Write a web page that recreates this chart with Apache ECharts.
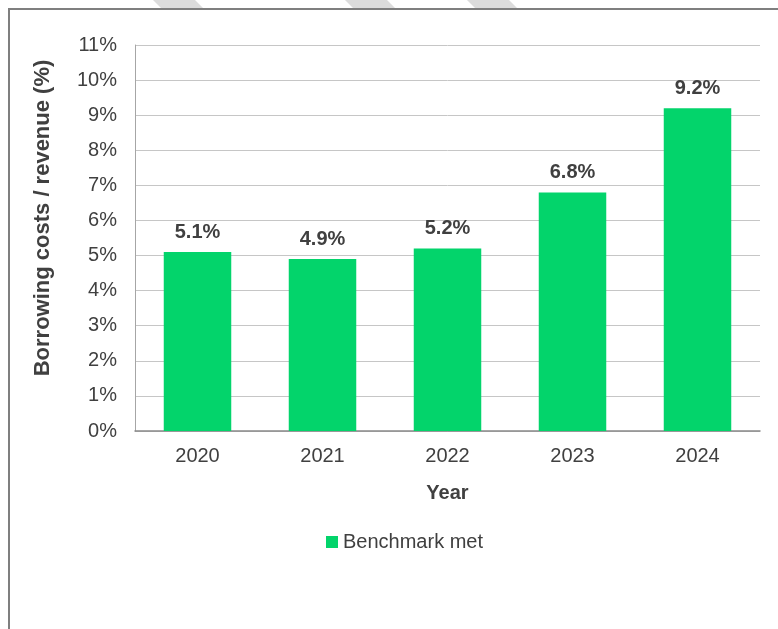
<!DOCTYPE html>
<html>
<head>
<meta charset="utf-8">
<script src="https://cdn.jsdelivr.net/npm/echarts@6/dist/echarts.min.js"></script>
<style>
  html, body { margin: 0; padding: 0; background: #ffffff; }
  #chart { width: 778px; height: 629px; }
</style>
</head>
<body>
<div id="chart"></div>
<script>
// Borrowing costs as a share of revenue, by year
const years = ['2020', '2021', '2022', '2023', '2024'];
const ratioValues = [5.1, 4.9, 5.2, 6.8, 9.2];
const seriesName = 'Benchmark met';
const yTicks = { min: 0, max: 11, interval: 1 };

const textColor = '#404040';
const barColor = '#03D46B';
const fontFamily = 'Arial, "Liberation Sans", sans-serif';

const chart = echarts.init(document.getElementById('chart'), null, { renderer: 'canvas' });

// light diagonal bands above the frame
function band(x0) {
  return {
    type: 'polygon',
    shape: { points: [[x0, 0], [x0 + 42, 0], [x0 + 50, 8], [x0 + 8, 8]] },
    style: { fill: '#dcdcdc' },
    z: 0
  };
}

chart.setOption({
  animation: false,
  backgroundColor: '#ffffff',
  textStyle: { fontFamily: fontFamily },
  graphic: [
    band(153), band(345), band(467),
    {
      type: 'rect',
      shape: { x: 9, y: 9, width: 820, height: 700 },
      style: { fill: 'none', stroke: '#7f7f7f', lineWidth: 2 },
      z: 1
    }
  ],
  grid: { left: 135, right: 18, top: 45, bottom: 198, containLabel: false },
  legend: {
    data: [seriesName],
    left: 321,
    top: 527,
    icon: 'rect',
    itemWidth: 12,
    itemHeight: 12,
    textStyle: { color: textColor, fontSize: 20, fontFamily: fontFamily }
  },
  xAxis: {
    type: 'category',
    data: years,
    name: 'Year',
    nameLocation: 'middle',
    nameGap: 52,
    nameTextStyle: { color: textColor, fontSize: 20, fontWeight: 'bold', fontFamily: fontFamily },
    axisLine: { lineStyle: { color: '#898989', width: 1.5 } },
    axisTick: { show: false },
    axisLabel: { color: textColor, fontSize: 20, margin: 15, fontFamily: fontFamily }
  },
  yAxis: {
    type: 'value',
    min: yTicks.min,
    max: yTicks.max,
    interval: yTicks.interval,
    name: 'Borrowing costs / revenue (%)',
    nameLocation: 'middle',
    nameGap: 81,
    nameRotate: 90,
    nameTextStyle: { color: textColor, fontSize: 22, fontWeight: 'bold', fontFamily: fontFamily, padding: [0, 0, 0, 40] },
    axisLine: { show: true, lineStyle: { color: '#a6a6a6', width: 1 } },
    axisTick: { show: false },
    splitLine: { lineStyle: { color: '#c6c6c6', width: 1 } },
    axisLabel: { color: textColor, fontSize: 20, margin: 18, fontFamily: fontFamily, formatter: '{value}%' }
  },
  series: [{
    name: seriesName,
    type: 'bar',
    data: ratioValues,
    barCategoryGap: '46%',
    itemStyle: { color: barColor },
    label: {
      show: true,
      position: 'top',
      distance: 10,
      color: textColor,
      fontSize: 20,
      fontWeight: 'bold',
      fontFamily: fontFamily,
      formatter: p => p.value.toFixed(1) + '%'
    }
  }]
});
</script>
</body>
</html>
